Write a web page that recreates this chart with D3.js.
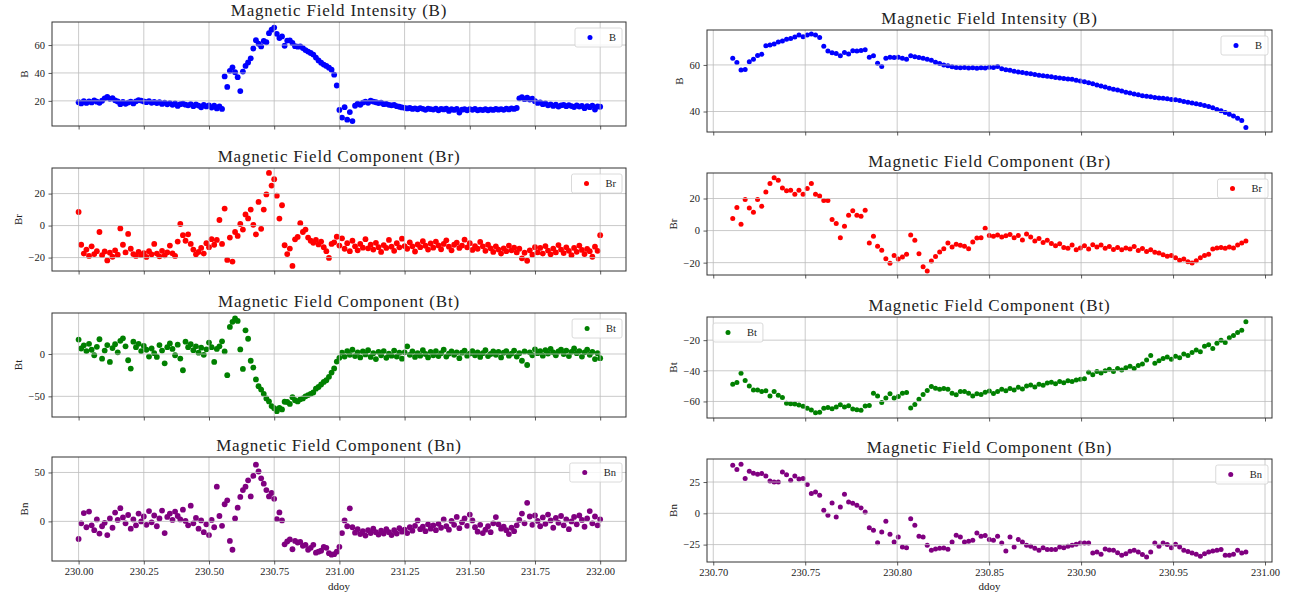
<!DOCTYPE html>
<html>
<head>
<meta charset="utf-8">
<script src="https://cdn.jsdelivr.net/npm/d3@7"></script>
<style>
  body { margin: 0; background: #fff; }
  svg text { font-family: "Liberation Serif", "Times New Roman", serif; fill: #222; }
</style>
</head>
<body>
<svg id="chart" width="1302" height="599"></svg>
<script>
// ---- left column: full two days, 230.00 .. 232.00 ----
const fullTime = [
  230.00, 230.01, 230.02, 230.03, 230.04, 230.05, 230.06, 230.07, 230.08, 230.09,
  230.10, 230.11, 230.12, 230.13, 230.14, 230.15, 230.16, 230.17, 230.18, 230.19,
  230.20, 230.21, 230.22, 230.23, 230.24, 230.25, 230.26, 230.27, 230.28, 230.29,
  230.30, 230.31, 230.32, 230.33, 230.34, 230.35, 230.36, 230.37, 230.38, 230.39,
  230.40, 230.41, 230.42, 230.43, 230.44, 230.45, 230.46, 230.47, 230.48, 230.49,
  230.50, 230.51, 230.52, 230.53, 230.54, 230.55, 230.56, 230.57, 230.58, 230.59,
  230.60, 230.61, 230.62, 230.63, 230.64, 230.65, 230.66, 230.67, 230.68, 230.69,
  230.70, 230.71, 230.72, 230.73, 230.74, 230.75, 230.76, 230.77, 230.78, 230.79,
  230.80, 230.81, 230.82, 230.83, 230.84, 230.85, 230.86, 230.87, 230.88, 230.89,
  230.90, 230.91, 230.92, 230.93, 230.94, 230.95, 230.96, 230.97, 230.98, 230.99,
  231.00, 231.01, 231.02, 231.03, 231.04, 231.05, 231.06, 231.07, 231.08, 231.09,
  231.10, 231.11, 231.12, 231.13, 231.14, 231.15, 231.16, 231.17, 231.18, 231.19,
  231.20, 231.21, 231.22, 231.23, 231.24, 231.25, 231.26, 231.27, 231.28, 231.29,
  231.30, 231.31, 231.32, 231.33, 231.34, 231.35, 231.36, 231.37, 231.38, 231.39,
  231.40, 231.41, 231.42, 231.43, 231.44, 231.45, 231.46, 231.47, 231.48, 231.49,
  231.50, 231.51, 231.52, 231.53, 231.54, 231.55, 231.56, 231.57, 231.58, 231.59,
  231.60, 231.61, 231.62, 231.63, 231.64, 231.65, 231.66, 231.67, 231.68, 231.69,
  231.70, 231.71, 231.72, 231.73, 231.74, 231.75, 231.76, 231.77, 231.78, 231.79,
  231.80, 231.81, 231.82, 231.83, 231.84, 231.85, 231.86, 231.87, 231.88, 231.89,
  231.90, 231.91, 231.92, 231.93, 231.94, 231.95, 231.96, 231.97, 231.98, 231.99,
  232.00
];

const fullB = [
  19.0, 18.2, 19.8, 18.5, 19.6, 18.9, 20.3, 19.4, 18.6, 20.1,
  21.8, 22.8, 21.5, 22.0, 20.4, 19.6, 17.6, 19.2, 17.9, 18.8,
  19.5, 18.2, 19.7, 20.6, 20.2, 19.6, 19.1, 19.8, 18.6, 19.2,
  18.4, 19.0, 17.8, 18.7, 17.5, 18.4, 17.2, 18.1, 16.4, 17.6,
  18.0, 17.3, 16.8, 17.7, 16.2, 17.4, 16.6, 15.4, 17.1, 16.0,
  16.8, 15.2, 16.5, 14.6, 16.0, 14.2, 37.5, 30.0, 41.5, 44.0,
  40.5, 37.0, 27.0, 41.0, 45.0, 47.5, 50.5, 57.5, 63.5, 61.0,
  59.0, 62.9, 62.0, 68.5, 71.0, 72.5, 68.0, 65.0, 66.2, 59.5,
  63.2, 63.4, 61.5, 59.2, 58.8, 59.0, 57.8, 56.4, 55.3, 54.3,
  53.2, 51.0, 49.0, 47.3, 46.0, 45.0, 43.8, 42.3, 38.8, 31.0,
  13.5, 8.0, 15.5, 6.5, 12.0, 5.5, 16.5, 18.0, 17.2, 18.8,
  19.4, 18.6, 20.2, 19.5, 19.0, 18.4, 18.8, 17.6, 17.9, 17.2,
  16.8, 17.1, 16.2, 15.8, 15.3, 15.0, 14.6, 14.9, 14.2, 14.6,
  14.0, 14.8, 14.3, 13.6, 14.4, 14.1, 13.8, 14.5, 13.2, 14.2,
  13.9, 14.4, 12.8, 14.0, 13.5, 14.2, 11.6, 13.7, 14.0, 13.3,
  14.1, 13.6, 14.3, 13.2, 13.8, 13.4, 14.0, 13.3, 13.9, 13.5,
  14.2, 13.7, 14.1, 13.6, 14.4, 13.9, 14.6, 14.2, 14.9, 21.8,
  22.6, 21.2, 22.3, 21.0, 21.6, 19.8, 18.5, 18.9, 17.6, 18.2,
  16.8, 17.5, 16.4, 17.3, 15.9, 16.8, 17.1, 16.2, 16.9, 16.3,
  15.6, 16.8, 15.9, 16.4, 14.8, 16.2, 15.5, 16.6, 13.8, 16.0,
  15.8
];

const fullBr = [
  8.5, -12.0, -17.5, -15.0, -19.0, -13.0, -17.8, -16.0, -4.0, -18.5,
  -16.2, -21.8, -17.0, -19.5, -15.5, -18.2, -1.8, -12.0, -16.8, -5.2,
  -14.5, -17.8, -19.0, -16.5, -18.5, -17.2, -19.6, -16.0, -18.0, -11.5,
  -17.5, -19.2, -15.8, -18.6, -16.8, -12.5, -17.4, -19.0, -10.0, 1.0,
  -6.0, -9.5, -5.5, -11.5, -15.0, -18.0, -16.5, -14.0, -17.5, -11.0,
  -13.5, -8.5, -12.0, -9.0, 3.5, -11.5, 10.6, -21.5, -7.5, -22.5,
  -4.0, -6.5, 1.0, -2.5, 7.0, 4.5, 10.0, 0.5, -5.5, 14.8,
  -2.0, 10.0, 19.5, 32.9, 25.0, 29.0, 18.7, 4.4, 12.7, -12.3,
  -17.8, -14.4, -25.2, -8.6, -7.1, 1.5, -4.0, -2.5, -7.5, -9.5,
  -10.8, -9.0, -11.8, -10.0, -13.5, -16.0, -20.2, -11.5, -10.5, -7.0,
  -12.5, -8.0, -14.5, -11.0, -16.0, -9.5, -13.0, -15.5, -11.5, -13.8,
  -8.5, -14.2, -12.0, -15.0, -10.8, -13.5, -16.5, -12.2, -14.0, -9.0,
  -13.2, -15.8, -11.0, -13.6, -8.2, -12.8, -14.5, -10.5, -13.0, -16.2,
  -11.8, -13.5, -9.8, -12.6, -15.0, -11.2, -13.8, -10.0, -12.4, -14.8,
  -11.5, -9.2, -13.2, -15.5, -12.0, -10.6, -14.0, -12.5, -8.8, -13.6,
  -11.0, -15.2, -12.8, -14.5, -10.2, -13.0, -15.8, -12.0, -14.2, -16.5,
  -13.0, -15.0, -17.5, -14.2, -16.0, -12.5, -15.5, -13.8, -16.8, -14.5,
  -20.5, -17.0, -22.0, -15.5, -18.2, -13.5, -16.8, -14.0, -17.5, -12.8,
  -15.6, -18.0, -14.4, -16.8, -12.2, -15.0, -17.2, -13.6, -15.8, -18.5,
  -14.0, -16.4, -12.5, -15.2, -17.8, -14.6, -16.0, -19.5, -13.2, -15.8,
  -6.0
];

const fullBt = [
  17.0, 6.5, 10.2, 3.5, 12.0, 5.0, -1.5, 8.5, 17.4, -5.5,
  4.0, 10.5, -9.4, 7.0, 11.5, 2.0, 15.5, 18.5, 9.0, -7.4,
  -17.2, 14.5, 8.0, 12.0, 3.5, 9.5, 5.0, -3.0, 6.5, 1.0,
  -3.5, 10.5, 4.0, -11.0, 8.0, 12.5, 6.0, -1.5, 11.0, -5.4,
  -19.2, 14.5, 8.0, 11.5, 4.5, 9.0, 1.5, 7.5, -1.0, 5.5,
  13.5, 8.0, -9.4, 6.0, 9.0, 15.0, 3.0, -25.0, 32.0, 38.0,
  42.0, 39.0, 5.4, -17.6, 28.0, 18.0, -8.0, -16.0, -30.0, -38.0,
  -42.0, -47.0, -52.5, -56.0, -61.5, -64.0, -67.5, -63.6, -65.4, -56.4,
  -56.7, -59.0, -51.0, -54.6, -56.0, -53.5, -52.5, -50.0, -48.5, -47.0,
  -45.5, -41.0, -39.0, -36.0, -33.0, -31.0, -27.0, -22.0, -17.0, -9.0,
  -4.5, 1.5, -3.0, 3.5, -1.0, 5.0, -2.5, 2.0, -4.0, 3.0,
  -0.5, 4.5, -3.5, 1.0, -6.0, 2.5, -1.5, 3.5, -4.5, 0.5,
  -2.0, 4.0, -3.0, 1.5, -5.5, 2.0, 9.0, -1.0, 3.0, -3.5,
  1.0, -2.0, 4.5, 0.0, -4.0, 2.5, -1.5, 3.5, -2.5, 1.0,
  5.0, -3.0, 0.5, 3.0, -1.0, 2.0, -5.0, 1.5, 4.0, -2.0,
  0.5, 3.5, -1.5, 2.0, -3.5, 1.0, 4.5, -2.5, 0.0, 3.0,
  -1.0, 2.5, -4.0, 1.5, 3.5, -2.0, 0.5, 4.0, -3.0, 1.0,
  -8.0, 3.0, -13.0, 2.0, -1.5, 5.5, 1.0, 3.5, -2.0, 4.5,
  0.5, 6.0, 2.0, -1.5, 3.0, 5.0, 0.0, 4.0, -2.5, 2.5,
  6.5, 1.0, 3.5, -3.0, 2.0, 5.0, -1.0, 2.5, -6.0, 1.0,
  -5.0
];

const fullBn = [
  -18.0, -2.0, 8.5, -6.0, 10.0, -4.0, -9.0, 2.0, -12.5, -5.0,
  -1.5, -14.0, 3.0, -6.5, 9.0, 1.5, 13.5, 4.0, -2.0, 6.5,
  -7.5, 2.0, -4.0, 8.0, 0.0, 5.0, -3.5, 10.5, -1.0, 6.0,
  -5.0, 3.0, 11.0, -12.0, 4.5, 8.0, 1.5, 10.0, 5.5, 2.0,
  12.0, 0.5, -4.0, 16.0, -2.0, 3.5, -7.5, 1.0, -11.0, -3.0,
  -14.0, 1.5, -6.0, 35.5, 5.5, -4.5, 17.5, 21.5, -20.0, -29.0,
  3.0, 14.0, 25.0, 32.0, 35.5, 42.0, 25.5, 46.5, 58.0, 51.0,
  44.0, 38.5, 32.0, 25.5, 29.0, 23.0, 2.4, 9.1, 1.0, -23.5,
  -20.5, -18.4, -28.5, -20.0, -21.6, -21.0, -25.0, -24.0, -29.0, -27.0,
  -24.0, -32.0, -31.0, -30.0, -26.0, -27.0, -32.5, -34.0, -33.5, -31.0,
  -26.0, -12.0, 1.0, -5.0, 13.3, -6.0, -11.5, -8.0, -13.0, -10.0,
  -14.5, -9.0, -12.0, -7.5, -11.0, -13.5, -9.5, -12.5, -8.0, -11.0,
  -14.0, -9.0, -12.5, -7.0, -10.5, -8.5, -12.0, -6.0, -9.5, -4.5,
  1.0, -8.0, -5.5, -10.0, -3.0, -7.5, -4.0, -9.0, -2.5, -6.5,
  2.0, -5.0, -8.5, 0.5, -3.5, 4.5, -7.0, -1.0, 3.0, -4.5,
  7.0, 1.0, -6.0, -10.5, -3.5, -12.0, -8.5, -5.0, -11.0, -2.0,
  4.4, -3.0, -7.5, -5.5, -9.0, -13.0, -6.5, -10.0, -4.0, 1.5,
  8.0, -2.0, 19.0, 5.0, -3.5, 6.0, 0.5, -5.0, 4.0, -2.5,
  7.0, 1.0, -6.5, 3.5, -1.5, 5.5, -4.0, 2.0, -8.0, 0.0,
  4.5, -3.0, 6.0, 1.5, -5.5, 3.0, 10.5, -2.0, 5.0, -4.0,
  2.0
];

// ---- right column: sheath close-up, 230.71 .. 230.99 ----
const zoomTime = [
  230.71060, 230.71285, 230.71510, 230.71735, 230.71960, 230.72185, 230.72410, 230.72635,
  230.72860, 230.73085, 230.73310, 230.73535, 230.73760, 230.73985, 230.74210, 230.74435,
  230.74660, 230.74885, 230.75110, 230.75335, 230.75560, 230.75785, 230.76010, 230.76235,
  230.76460, 230.76685, 230.76910, 230.77135, 230.77360, 230.77585, 230.77810, 230.78035,
  230.78260, 230.78485, 230.78710, 230.78935, 230.79160, 230.79385, 230.79610, 230.79835,
  230.80060, 230.80285, 230.80510, 230.80735, 230.80960, 230.81185, 230.81410, 230.81635,
  230.81860, 230.82085, 230.82310, 230.82535, 230.82760, 230.82985, 230.83210, 230.83435,
  230.83660, 230.83885, 230.84110, 230.84335, 230.84560, 230.84785, 230.85010, 230.85235,
  230.85460, 230.85685, 230.85910, 230.86135, 230.86360, 230.86585, 230.86810, 230.87035,
  230.87260, 230.87485, 230.87710, 230.87935, 230.88160, 230.88385, 230.88610, 230.88835,
  230.89060, 230.89285, 230.89510, 230.89735, 230.89960, 230.90185, 230.90410, 230.90635,
  230.90860, 230.91085, 230.91310, 230.91535, 230.91760, 230.91985, 230.92210, 230.92435,
  230.92660, 230.92885, 230.93110, 230.93335, 230.93560, 230.93785, 230.94010, 230.94235,
  230.94460, 230.94685, 230.94910, 230.95135, 230.95360, 230.95585, 230.95810, 230.96035,
  230.96260, 230.96485, 230.96710, 230.96935, 230.97160, 230.97385, 230.97610, 230.97835,
  230.98060, 230.98285, 230.98510, 230.98735, 230.98960
];

const zoomB = [
  62.9, 61.0, 57.8, 58.0, 61.4, 62.4, 64.0, 64.6, 68.2, 68.6,
  69.0, 69.8, 70.3, 71.0, 71.3, 72.0, 72.9, 72.1, 72.8, 73.3,
  72.9, 71.8, 68.0, 66.0, 65.2, 64.9, 63.9, 65.3, 64.7, 66.1,
  66.0, 66.2, 66.5, 63.3, 63.9, 60.7, 59.3, 62.9, 63.3, 63.2,
  63.3, 62.9, 62.4, 63.9, 63.5, 63.2, 62.9, 62.4, 62.0, 61.2,
  60.6, 60.0, 59.6, 59.2, 58.9, 58.8, 58.9, 58.7, 58.8, 58.6,
  58.8, 58.7, 59.0, 58.9, 59.3, 58.4, 57.9, 57.7, 57.3, 57.0,
  56.7, 56.4, 56.2, 55.9, 55.6, 55.4, 55.1, 54.9, 54.6, 54.4,
  54.2, 54.0, 53.8, 53.4, 53.1, 52.8, 52.3, 51.9, 51.4, 50.9,
  50.5, 50.0, 49.6, 49.2, 48.8, 48.3, 47.9, 47.5, 47.2, 46.8,
  46.5, 46.3, 46.0, 45.8, 45.7, 45.5, 45.2, 45.0, 44.7, 44.3,
  44.0, 43.7, 43.3, 43.0, 42.6, 42.2, 41.6, 40.9, 40.3, 39.6,
  38.8, 38.1, 37.1, 36.1, 33.1
];

const zoomBr = [
  7.5, 14.4, 3.9, 19.4, 14.1, 11.4, 19.4, 15.2, 24.1, 29.4,
  32.9, 31.4, 26.6, 24.8, 25.2, 22.7, 25.2, 22.7, 26.2, 29.4,
  22.7, 21.6, 18.7, 18.7, 6.9, 4.4, -4.4, 2.7, 9.6, 12.3,
  9.6, 9.0, 12.7, -7.7, -3.6, -9.8, -12.3, -17.5, -20.4, -15.6,
  -17.8, -16.5, -14.8, -2.7, -6.1, -14.4, -22.5, -25.2, -19.0, -16.1,
  -13.4, -11.3, -7.7, -10.2, -8.6, -9.2, -9.8, -11.3, -7.1, -4.6,
  -4.4, 1.5, -3.0, -3.5, -2.8, -4.0, -3.2, -2.5, -4.5, -3.0,
  -5.8, -2.2, -4.0, -6.5, -5.0, -7.5, -6.0, -8.0, -9.5, -8.2,
  -10.5, -11.0, -9.0, -12.0, -10.8, -9.5, -11.5, -8.8, -10.2, -9.0,
  -11.0, -10.0, -11.8, -10.5, -12.0, -10.8, -11.5, -10.0, -12.5, -11.2,
  -13.0, -12.0, -13.5, -14.0, -15.0, -16.0, -15.5, -17.0, -18.5, -17.8,
  -19.5, -20.2, -18.8, -17.0, -15.5, -14.8, -11.5, -10.8, -10.5, -11.0,
  -10.2, -10.8, -9.0, -7.8, -6.5
];

const zoomBt = [
  -48.8, -47.7, -41.6, -46.4, -49.9, -52.5, -52.5, -53.5, -53.0, -56.4,
  -53.5, -56.0, -57.5, -61.1, -61.5, -61.7, -62.3, -63.2, -64.5, -65.5,
  -67.4, -67.0, -64.5, -63.9, -64.8, -63.6, -62.1, -63.6, -62.8, -65.0,
  -65.4, -65.8, -63.0, -62.6, -54.6, -56.4, -60.7, -57.8, -55.0, -57.8,
  -56.7, -54.6, -54.2, -64.3, -62.0, -58.5, -55.5, -52.8, -50.3, -51.4,
  -52.0, -51.6, -52.0, -54.6, -55.6, -53.5, -53.5, -54.6, -56.4, -55.0,
  -55.5, -54.0, -53.2, -54.8, -53.5, -52.0, -53.0, -51.5, -52.5, -50.8,
  -51.8, -50.0, -49.2, -50.5, -48.8, -49.5, -48.0, -47.5, -48.5, -47.0,
  -47.8, -46.5, -47.0, -46.0, -45.5, -45.2, -41.0, -42.5, -40.5, -41.5,
  -40.0, -39.0, -40.5, -38.5, -39.5, -38.0, -37.0, -38.5, -36.5, -35.5,
  -33.0, -30.0, -35.0, -33.5, -32.0, -31.0, -32.5, -30.5, -31.5, -29.0,
  -30.0, -28.0, -26.5, -27.5, -24.0, -23.0, -25.5, -22.0, -20.0, -21.5,
  -18.5, -17.0, -15.0, -13.5, -8.0
];

const zoomBn = [
  38.5, 35.0, 39.3, 27.8, 33.7, 32.1, 31.3, 31.8, 29.9, 25.9,
  25.1, 25.1, 33.1, 30.9, 26.4, 29.9, 27.5, 27.8, 23.0, 15.8,
  17.1, 14.4, 2.4, -1.6, 8.3, -3.0, 5.0, 15.2, 9.1, 8.0,
  6.4, 4.3, 1.0, -11.5, -13.6, -23.5, -15.0, -6.4, -16.8, -23.0,
  -19.0, -27.0, -27.5, -4.3, -9.6, -18.4, -18.9, -25.6, -29.6, -28.5,
  -28.0, -27.8, -28.8, -23.0, -17.6, -18.9, -23.0, -22.4, -21.6, -15.8,
  -18.4, -17.8, -21.0, -21.6, -18.4, -23.8, -30.2, -18.9, -27.0, -21.0,
  -23.0, -25.6, -26.4, -28.0, -29.6, -27.5, -29.0, -29.0, -29.0, -27.0,
  -27.5, -26.4, -25.5, -24.8, -23.8, -23.8, -23.8, -31.8, -31.0, -32.8,
  -28.5, -29.3, -29.6, -31.5, -33.6, -32.3, -30.4, -29.6, -31.0, -33.0,
  -35.0, -31.0, -23.8, -26.4, -23.8, -25.0, -27.5, -24.8, -27.0, -29.6,
  -30.5, -31.8, -32.8, -34.4, -32.3, -31.0, -30.2, -29.5, -29.0, -33.6,
  -33.6, -32.8, -29.6, -31.8, -31.0
];

// tick values
const fullTicks = [230.00, 230.25, 230.50, 230.75, 231.00, 231.25, 231.50, 231.75, 232.00];
const zoomTicks = [230.70, 230.75, 230.80, 230.85, 230.90, 230.95, 231.00];
const fullBTicks = [20, 40, 60];
const fullBrTicks = [-20, 0, 20];
const fullBtTicks = [-50, 0];
const fullBnTicks = [0, 50];
const zoomBTicks = [40, 60];
const zoomBrTicks = [-20, 0, 20];
const zoomBtTicks = [-60, -40, -20];
const zoomBnTicks = [-25, 0, 25];

const svg = d3.select("#chart");
const serif = "'Liberation Serif', 'Times New Roman', serif";

const columns = [
  { left: 52, right: 626, domain: [229.898, 232.099], time: fullTime, ticks: fullTicks, r: 2.9 },
  { left: 707, right: 1272, domain: [230.6966, 231.0038], time: zoomTime, ticks: zoomTicks, r: 2.5 }
];

const titles = {
  B: "Magnetic Field Intensity (B)",
  Br: "Magnetic Field Component (Br)",
  Bt: "Magnetic Field Component (Bt)",
  Bn: "Magnetic Field Component (Bn)"
};

const panels = [
  { col: 0, key: "B",  top: 22,  bottom: 126, domain: [2.0, 76.5],    ticks: fullBTicks,  values: fullB,  color: "#0000ff" },
  { col: 0, key: "Br", top: 168, bottom: 271, domain: [-28.4, 36.0],  ticks: fullBrTicks, values: fullBr, color: "#ff0000" },
  { col: 0, key: "Bt", top: 313, bottom: 417, domain: [-74.4, 48.4],  ticks: fullBtTicks, values: fullBt, color: "#008000" },
  { col: 0, key: "Bn", top: 457, bottom: 561, domain: [-40.5, 65.8],  ticks: fullBnTicks, values: fullBn, color: "#800080", xlabel: true },
  { col: 1, key: "B",  top: 30,  bottom: 132, domain: [31.2, 75.0],   ticks: zoomBTicks,  values: zoomB,  color: "#0000ff" },
  { col: 1, key: "Br", top: 173, bottom: 275, domain: [-27.7, 35.9],  ticks: zoomBrTicks, values: zoomBr, color: "#ff0000" },
  { col: 1, key: "Bt", top: 317, bottom: 418, domain: [-70.8, -4.9],  ticks: zoomBtTicks, values: zoomBt, color: "#008000", legendLeft: true },
  { col: 1, key: "Bn", top: 459, bottom: 562, domain: [-38.9, 43.4],  ticks: zoomBnTicks, values: zoomBn, color: "#800080", xlabel: true }
];

const yFmt = d => d < 0 ? "\u2212" + Math.abs(d) : String(d);

panels.forEach((p, i) => {
  const c = columns[p.col];
  const x = d3.scaleLinear().domain(c.domain).range([c.left, c.right]);
  const y = d3.scaleLinear().domain(p.domain).range([p.bottom, p.top]);
  const h = p.bottom - p.top;
  const w = c.right - c.left;
  const g = svg.append("g");

  g.append("clipPath").attr("id", "clip" + i)
    .append("rect").attr("x", c.left).attr("y", p.top).attr("width", w).attr("height", h);

  // points
  g.append("g")
    .attr("clip-path", `url(#clip${i})`)
    .selectAll("circle")
    .data(d3.zip(c.time, p.values))
    .join("circle")
    .attr("cx", d => x(d[0]))
    .attr("cy", d => y(d[1]))
    .attr("r", c.r)
    .attr("fill", p.color);

  // grid (matplotlib draws it above the scatter)
  const grid = g.append("g").attr("stroke", "#bdbdbd").attr("stroke-width", 0.8);
  grid.selectAll(".gx").data(c.ticks).join("line")
    .attr("x1", d => x(d)).attr("x2", d => x(d))
    .attr("y1", p.top).attr("y2", p.bottom);
  grid.selectAll(".gy").data(p.ticks).join("line")
    .attr("x1", c.left).attr("x2", c.right)
    .attr("y1", d => y(d)).attr("y2", d => y(d));

  // axes
  const xAxis = g.append("g")
    .attr("transform", `translate(0,${p.bottom})`)
    .call(d3.axisBottom(x).tickValues(c.ticks).tickSize(3.5).tickPadding(3.5)
      .tickFormat(p.xlabel ? d3.format(".2f") : ""));
  const yAxis = g.append("g")
    .attr("transform", `translate(${c.left},0)`)
    .call(d3.axisLeft(y).tickValues(p.ticks).tickSize(3.5).tickPadding(3.5).tickFormat(yFmt));
  [xAxis, yAxis].forEach(a => {
    a.attr("font-family", serif).attr("font-size", 10.5);
    a.select(".domain").remove();
    a.selectAll(".tick line").attr("stroke", "#333").attr("stroke-width", 0.8);
    a.selectAll(".tick text").attr("fill", "#222");
  });

  // frame
  g.append("rect")
    .attr("x", c.left).attr("y", p.top).attr("width", w).attr("height", h)
    .attr("fill", "none").attr("stroke", "#333").attr("stroke-width", 1);

  // title
  g.append("text")
    .attr("x", (c.left + c.right) / 2).attr("y", p.top - 6)
    .attr("text-anchor", "middle")
    .attr("font-size", 17)
    .attr("letter-spacing", 0.8)
    .text(titles[p.key]);

  // y label, placed just left of the tick labels
  const bx = yAxis.node().getBBox().x + c.left;
  g.append("text")
    .attr("transform", `translate(${bx - 7},${(p.top + p.bottom) / 2}) rotate(-90)`)
    .attr("text-anchor", "middle")
    .attr("font-size", 11)
    .text(p.key);

  if (p.xlabel) {
    g.append("text")
      .attr("x", (c.left + c.right) / 2).attr("y", 590)
      .attr("text-anchor", "middle")
      .attr("font-size", 11)
      .text("ddoy");
  }

  // legend
  const leg = g.append("g");
  const box = leg.append("rect");
  const label = leg.append("text").attr("font-size", 10.5).text(p.key);
  const tw = label.node().getComputedTextLength();
  const bw = 34 + tw + 6, bh = 19;
  const lx = p.legendLeft ? c.left + 6 : c.right - 4 - bw;
  const ly = p.top + 6;
  box.attr("x", lx).attr("y", ly).attr("width", bw).attr("height", bh)
    .attr("rx", 2).attr("fill", "#fff").attr("fill-opacity", 0.8)
    .attr("stroke", "#d0d0d0").attr("stroke-width", 0.8);
  leg.append("circle").attr("cx", lx + 15).attr("cy", ly + bh / 2).attr("r", 2.5).attr("fill", p.color);
  label.attr("x", lx + 34).attr("y", ly + bh / 2 + 3.6);
});
</script>
</body>
</html>
